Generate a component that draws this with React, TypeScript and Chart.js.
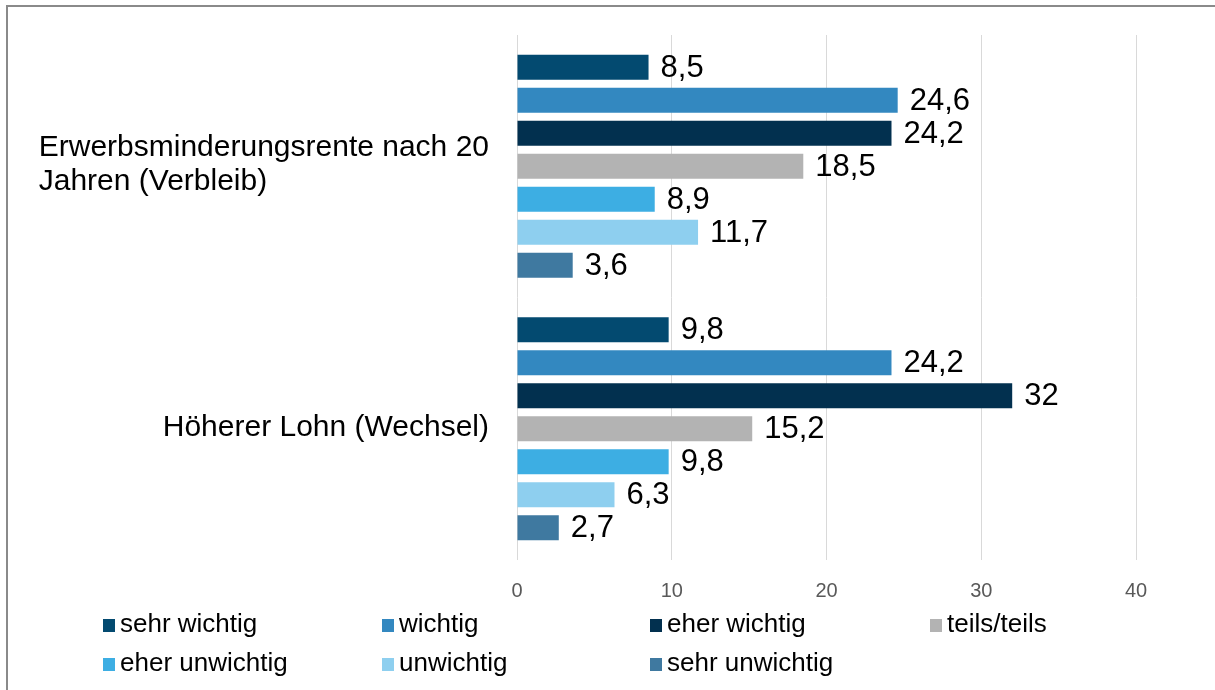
import React, { useEffect, useRef } from "react";
import { Chart, registerables } from "chart.js";

Chart.register(...registerables);

const categories: string[][] = [
  ["Erwerbsminderungsrente nach 20", "Jahren (Verbleib)"],
  ["Höherer Lohn (Wechsel)"],
];
const seriesNames = [
  "sehr wichtig",
  "wichtig",
  "eher wichtig",
  "teils/teils",
  "eher unwichtig",
  "unwichtig",
  "sehr unwichtig",
];
const seriesColors = ["#034A70", "#3388C0", "#02304F", "#B3B3B3", "#3DAEE3", "#8ECFEF", "#3F79A0"];
const sehrWichtig = [8.5, 9.8];
const wichtig = [24.6, 24.2];
const eherWichtig = [24.2, 32];
const teilsTeils = [18.5, 15.2];
const eherUnwichtig = [8.9, 9.8];
const unwichtig = [11.7, 6.3];
const sehrUnwichtig = [3.6, 2.7];
const xTicks = [0, 10, 20, 30, 40];

const seriesValues = [sehrWichtig, wichtig, eherWichtig, teilsTeils, eherUnwichtig, unwichtig, sehrUnwichtig];

const FONT = '"Liberation Sans", Arial, sans-serif';

const fmt = (v: number) => String(v).replace(".", ",");

const customPlugin = {
  id: "custom",
  beforeDraw(chart: any) {
    const ctx = chart.ctx;
    ctx.save();
    ctx.fillStyle = "#ffffff";
    ctx.fillRect(0, 0, chart.width, chart.height);
    ctx.strokeStyle = "#8a8a8a";
    ctx.lineWidth = 2;
    ctx.strokeRect(7, 6, chart.width + 20, chart.height + 20);
    ctx.restore();
  },
  afterDraw(chart: any) {
    const ctx = chart.ctx;
    const yScale = chart.scales.y;
    ctx.save();
    // category labels
    ctx.font = `30px ${FONT}`;
    ctx.fillStyle = "#000000";
    ctx.textBaseline = "middle";
    ctx.textAlign = "left";
    const lineH = 34;
    categories.forEach((lines, i) => {
      const cy = yScale.getPixelForValue(i) - 1.5;
      const w = Math.max(...lines.map((l) => ctx.measureText(l).width));
      const x0 = 489 - w;
      lines.forEach((l, j) => {
        const y = cy + (j - (lines.length - 1) / 2) * lineH;
        ctx.fillText(l, x0, y);
      });
    });
    // data labels
    ctx.font = `31px ${FONT}`;
    chart.data.datasets.forEach((ds: any, di: number) => {
      const meta = chart.getDatasetMeta(di);
      meta.data.forEach((bar: any, i: number) => {
        ctx.fillText(fmt(ds.data[i]), bar.x + 12, bar.y + 1);
      });
    });
    // legend
    ctx.font = `26px ${FONT}`;
    const colX = [103, 382, 650, 930];
    const rowY = [625, 664];
    seriesNames.forEach((name, i) => {
      const c = i % 4;
      const r = Math.floor(i / 4);
      const x = colX[c];
      const y = rowY[r];
      ctx.fillStyle = seriesColors[i];
      ctx.fillRect(x, y - 6, 12, 13);
      ctx.fillStyle = "#000000";
      ctx.fillText(name, x + 17, y);
    });
    ctx.restore();
  },
};

export default function App() {
  const ref = useRef<HTMLCanvasElement | null>(null);
  useEffect(() => {
    if (!ref.current) return;
    const chart = new Chart(ref.current, {
      type: "bar",
      data: {
        labels: categories.map((c) => c.join(" ")),
        datasets: seriesNames.map((name, i) => ({
          label: name,
          data: seriesValues[i],
          backgroundColor: seriesColors[i],
          borderWidth: 0,
          categoryPercentage: 0.88,
          barPercentage: 0.76,
        })),
      },
      options: {
        indexAxis: "y",
        animation: false,
        responsive: false,
        devicePixelRatio: 1,
        layout: { padding: { left: 517, right: 79, top: 35, bottom: 68 } },
        plugins: { legend: { display: false }, tooltip: { enabled: false } },
        scales: {
          x: {
            min: 0,
            max: 40,
            afterBuildTicks: (scale: any) => {
              scale.ticks = xTicks.map((v) => ({ value: v }));
            },
            grid: { color: "#d9d9d9", drawTicks: false, lineWidth: 1 },
            border: { display: false },
            ticks: {
              font: { family: FONT, size: 20 },
              color: "#595959",
              padding: 19,
            },
          },
          y: {
            display: false,
            grid: { display: false },
          },
        },
      },
      plugins: [customPlugin],
    } as any);
    return () => chart.destroy();
  }, []);
  return (
    <div style={{ position: "fixed", left: 0, top: 0, width: 1215, height: 690, background: "#fff" }}>
      <canvas ref={ref} width={1215} height={690} style={{ width: 1215, height: 690, display: "block" }} />
    </div>
  );
}
